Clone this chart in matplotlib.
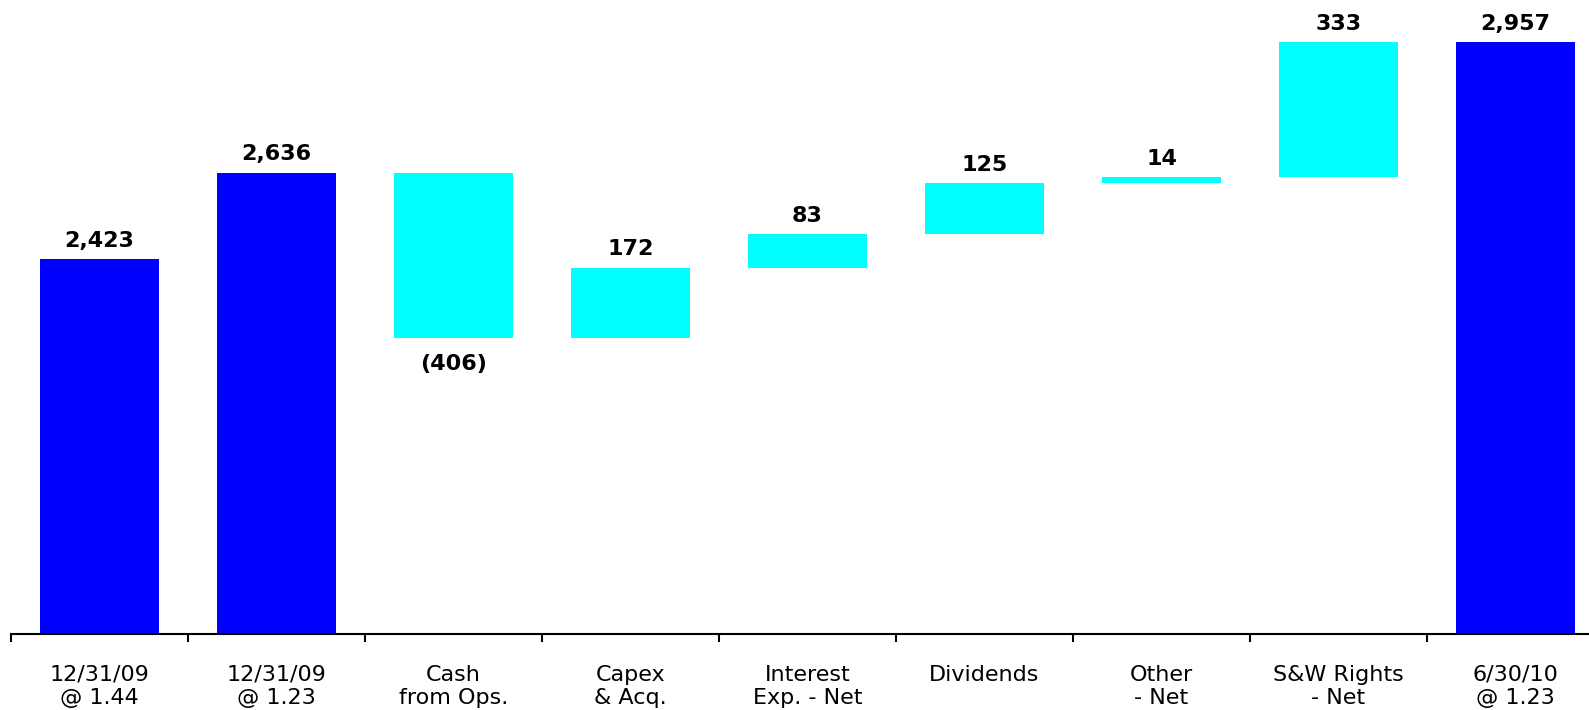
import matplotlib.pyplot as plt
import numpy as np

labels = ['12/31/09\n@ 1.44', '12/31/09\n@ 1.23', 'Cash\nfrom Ops.', 'Capex\n& Acq.',
          'Interest\nExp. - Net', 'Dividends', 'Other\n- Net', 'S&W Rights\n- Net', '6/30/10\n@ 1.23']
# totals are absolute levels, the rest are changes from the previous level
values = [2423, 2636, -406, 172, 83, 125, 14, 333, 2957]
is_total = [True, True, False, False, False, False, False, False, True]

BLUE = '#0000ff'
CYAN = '#00ffff'

fig = plt.figure(figsize=(15.89, 7.10), dpi=100)
ax = fig.add_axes([11 / 1589, 76 / 710, 9 * 177 / 1589, 634 / 710])

y_base = 1500
level = 0
for i, (v, tot) in enumerate(zip(values, is_total)):
    if tot:
        bottom, height = y_base, v - y_base
        level = v
        color = BLUE
        top = v
        txt = f'{v:,}'
    else:
        bottom = level if v >= 0 else level + v
        height = abs(v)
        level += v
        color = CYAN
        top = bottom + height
        txt = f'{v:,}' if v >= 0 else f'({abs(v):,})'
    ax.bar(i, height, bottom=bottom, width=0.667, color=color, linewidth=0, zorder=2)
    if tot or v >= 0:
        ax.annotate(txt, (i, top), xytext=(0, 6), textcoords='offset points',
                    ha='center', va='bottom', fontsize=16, fontweight='bold')
    else:
        ax.annotate(txt, (i, bottom), xytext=(0, -12), textcoords='offset points',
                    ha='center', va='top', fontsize=16, fontweight='bold')

ax.set_xlim(-0.5, len(values) - 0.5)
ax.set_ylim(y_base, 3061)

for s in ['top', 'right', 'left']:
    ax.spines[s].set_visible(False)
ax.spines['bottom'].set_linewidth(1.5)
ax.set_yticks([])

ax.set_xticks(np.arange(len(values) + 1) - 0.5)
ax.set_xticklabels([])
ax.tick_params(axis='x', which='major', length=6, width=1.5, direction='out')
ax.set_xticks(np.arange(len(values)), minor=True)
ax.set_xticklabels(labels, minor=True, fontsize=16)
ax.tick_params(axis='x', which='minor', length=0, pad=22)

fig.savefig('out.png', dpi=100)
